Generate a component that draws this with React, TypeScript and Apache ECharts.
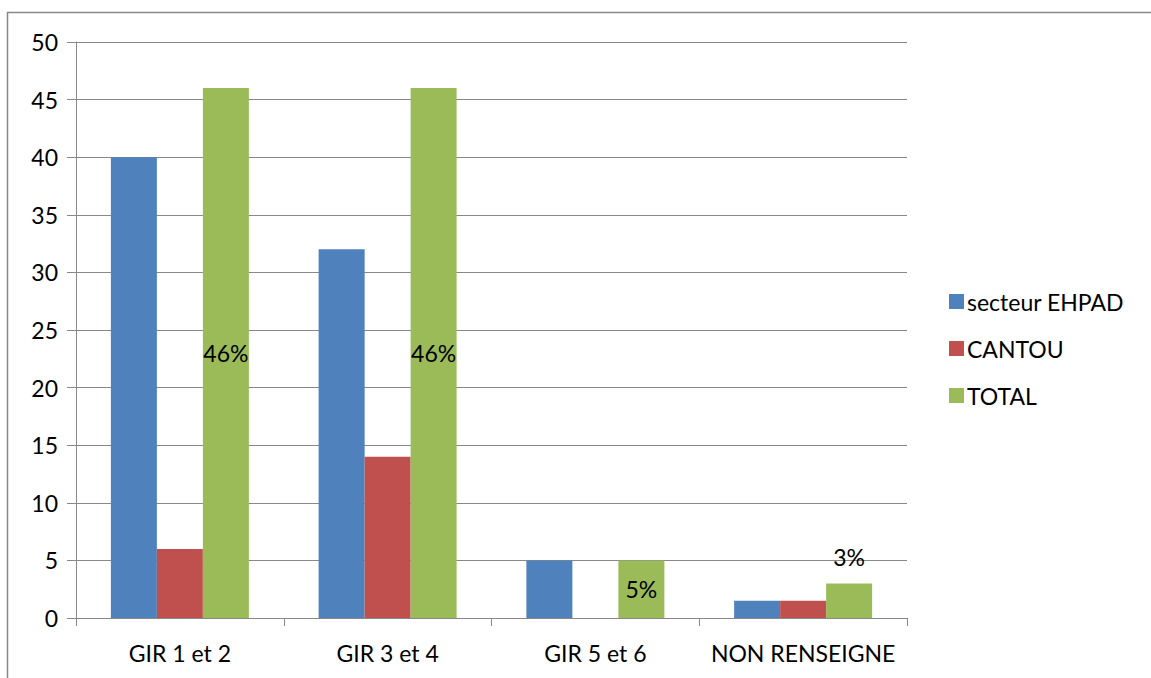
import React, { useEffect, useRef } from "react";
import * as echarts from "echarts";

const categories = ["GIR 1 et 2", "GIR 3 et 4", "GIR 5 et 6", "NON RENSEIGNE"];
const secteurEhpad = [40, 32, 5, 1.5];
const cantou = [6, 14, 0, 1.5];
const total = [46, 46, 5, 3];
const totalLabels = ["46%", "46%", "5%", "3%"];
const totalLabelPos = ["inside", "inside", "inside", "top"];
const yTicks = [0, 5, 10, 15, 20, 25, 30, 35, 40, 45, 50];

const FONT = "Lato, 'Open Sans', sans-serif";
const FS = 23;

export default function App() {
  const ref = useRef<HTMLDivElement>(null);
  useEffect(() => {
    if (!ref.current) return;
    const chart = echarts.init(ref.current, null, { renderer: "svg" });
    chart.setOption({
      animation: false,
      textStyle: { fontFamily: FONT, color: "#000" },
      grid: { left: 76, right: 244, top: 42, bottom: 60, containLabel: false },
      graphic: [
        {
          type: "rect",
          shape: { x: 7.5, y: 12.5, width: 1200, height: 700 },
          style: { fill: "none", stroke: "#888", lineWidth: 1.5 },
          silent: true,
        },
      ],
      legend: {
        orient: "vertical",
        left: 949,
        top: 290,
        padding: 0,
        itemWidth: 15,
        itemHeight: 15,
        itemGap: 24,
        icon: "rect",
        textStyle: { fontFamily: FONT, fontSize: FS, color: "#000", padding: [0, 0, 0, -2] },
        data: ["secteur EHPAD", "CANTOU", "TOTAL"],
      },
      xAxis: {
        type: "category",
        data: categories,
        axisLine: { lineStyle: { color: "#888", width: 1 } },
        axisTick: { show: true, interval: 0, length: 8, lineStyle: { color: "#888" } },
        axisLabel: { interval: 0, fontFamily: FONT, fontSize: FS, color: "#000", margin: 23 },
      },
      yAxis: {
        type: "value",
        min: yTicks[0],
        max: yTicks[yTicks.length - 1],
        interval: 5,
        axisLine: { show: true, lineStyle: { color: "#888", width: 1 } },
        axisTick: { show: true, length: 9, lineStyle: { color: "#888" } },
        splitLine: { show: true, lineStyle: { color: "#888", width: 1 } },
        axisLabel: { fontFamily: FONT, fontSize: FS, color: "#000", margin: 18 },
      },
      series: [
        {
          name: "secteur EHPAD",
          type: "bar",
          data: secteurEhpad,
          barWidth: 46,
          barGap: "0%",
          itemStyle: { color: "#4F81BD" },
        },
        {
          name: "CANTOU",
          type: "bar",
          data: cantou,
          barWidth: 46,
          barGap: "0%",
          itemStyle: { color: "#C0504D" },
        },
        {
          name: "TOTAL",
          type: "bar",
          data: total.map((v, i) => ({
            value: v,
            label: { show: true, position: totalLabelPos[i], distance: i === 3 ? 15 : 5 },
          })),
          barWidth: 46,
          barGap: "0%",
          itemStyle: { color: "#9BBB59" },
          label: {
            show: true,
            fontFamily: FONT,
            fontSize: FS,
            color: "#000",
            formatter: (p: any) => totalLabels[p.dataIndex],
          },
        },
      ],
    });
    return () => chart.dispose();
  }, []);
  return (
    <div
      ref={ref}
      style={{ position: "absolute", left: 0, top: 0, width: 1151, height: 678, background: "#fff" }}
    />
  );
}
